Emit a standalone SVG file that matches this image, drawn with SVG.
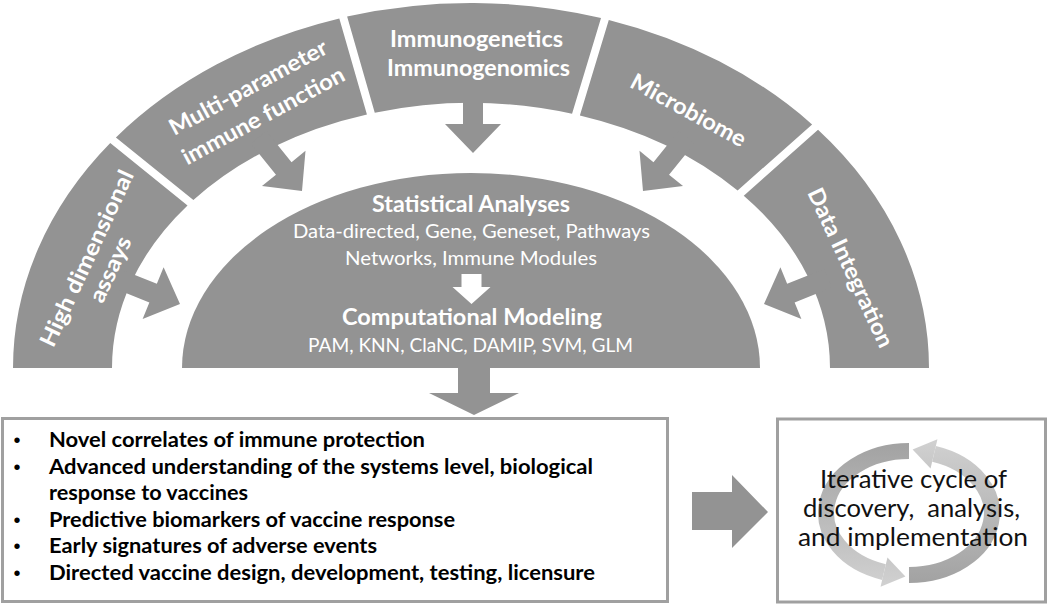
<svg xmlns="http://www.w3.org/2000/svg" width="1050" height="605" viewBox="0 0 1050 605">
<defs>
<style>
.seg{fill:#939393}
.arr{fill:#939393}
.wt{fill:#ffffff;font-family:Lato,"Liberation Sans",sans-serif;text-anchor:middle}
.lb{font-weight:700;font-size:22.5px}
.h1{font-weight:700;font-size:23px}
.h2{font-size:18.5px}
.box{fill:#ffffff;stroke:#a0a0a0;stroke-width:3}
.bt{fill:#000000;font-family:Lato,"Liberation Sans",sans-serif;font-weight:700;font-size:21px}
.bul{fill:#000000;font-family:"Liberation Sans",sans-serif;font-size:20px;text-anchor:middle}
.rt{fill:#111111;font-family:Lato,"Liberation Sans",sans-serif;font-size:25.5px;text-anchor:middle}
</style>
<linearGradient id="cyc" gradientUnits="userSpaceOnUse" x1="0" y1="443" x2="0" y2="590">
<stop offset="0" stop-color="#a2a2a2"/>
<stop offset="1" stop-color="#d2d2d2"/>
</linearGradient>
<polygon id="ringArrow" points="0,0 -29,-28 -29,-10 -69,-10 -69,10 -29,10 -29,28"/>
</defs>
<rect width="1050" height="605" fill="#ffffff"/>

<g id="seg-high-dimensional">
<path class="seg" d="M13,368 A458,365 0 0 1 110.25,143.12 L187.52,205.40 A359,265 0 0 0 112,368 Z"/>
</g>
<g id="seg-multi-parameter">
<path class="seg" d="M115.91,137.47 A458,365 0 0 1 339.32,18.41 L366.94,114.38 A359,265 0 0 0 193.39,199.97 Z"/>
</g>
<g id="seg-immunogenetics">
<path class="seg" d="M347.12,16.60 A458,365 0 0 1 601.02,18.0 L572.06,113.70 A359,265 0 0 0 374.76,112.69 Z"/>
</g>
<g id="seg-microbiome">
<path class="seg" d="M608.79,19.90 A458,365 0 0 1 812.10,124.42 L737.61,190.54 A359,265 0 0 0 579.86,115.47 Z"/>
</g>
<g id="seg-data-integration">
<path class="seg" d="M818.03,129.80 A458,365 0 0 1 929,368 L830,368 A359,265 0 0 0 743.75,195.68 Z"/>
</g>

<g id="dome">
<path class="seg" d="M182,368 A289,195 0 0 1 760,368 Z"/>
</g>

<g id="connectors">
<use href="#ringArrow" class="arr" transform="translate(180,304) rotate(22)"/>
<use href="#ringArrow" class="arr" transform="translate(302,191) rotate(51)"/>
<use href="#ringArrow" class="arr" transform="translate(473,153) rotate(90)"/>
<use href="#ringArrow" class="arr" transform="translate(643,191) rotate(129)"/>
<use href="#ringArrow" class="arr" transform="translate(764,304) rotate(158)"/>
<polygon fill="#ffffff" points="461.5,274 481.5,274 481.5,287 490.5,287 471.5,304 452.5,287 461.5,287"/>
<polygon class="arr" points="458,360 490,360 490,393 519,393 474,415 429,393 458,393"/>
<polygon class="arr" points="692,492 732,492 732,475 768,512 732,548 732,530 692,530"/>
</g>

<g id="label-high-dimensional" transform="translate(101,265) rotate(-65)">
<text class="wt lb" x="0" y="-8" textLength="192" lengthAdjust="spacingAndGlyphs">High dimensional</text>
<text class="wt lb" x="0" y="18" textLength="70" lengthAdjust="spacingAndGlyphs">assays</text>
</g>
<g id="label-multi-parameter" transform="translate(257,104) rotate(-28.3)">
<text class="wt lb" x="0" y="-11" textLength="176" lengthAdjust="spacingAndGlyphs">Multi-parameter</text>
<text class="wt lb" x="0" y="21" textLength="181" lengthAdjust="spacingAndGlyphs">immune function</text>
</g>
<g id="label-immunogenetics">
<text class="wt lb" x="476.5" y="47" textLength="173" lengthAdjust="spacingAndGlyphs">Immunogenetics</text>
<text class="wt lb" x="478.5" y="76" textLength="183" lengthAdjust="spacingAndGlyphs">Immunogenomics</text>
</g>
<g id="label-microbiome" transform="translate(688,111) rotate(28.5)">
<text class="wt lb" x="0" y="7" textLength="128" lengthAdjust="spacingAndGlyphs">Microbiome</text>
</g>
<g id="label-data-integration" transform="translate(850,268) rotate(65)">
<text class="wt lb" x="0" y="7" textLength="173" lengthAdjust="spacingAndGlyphs">Data Integration</text>
</g>

<g id="label-dome">
<text class="wt h1" x="471" y="212" textLength="198" lengthAdjust="spacingAndGlyphs">Statistical Analyses</text>
<text class="wt h2" x="471.5" y="238" textLength="357" lengthAdjust="spacingAndGlyphs">Data-directed, Gene, Geneset, Pathways</text>
<text class="wt h2" x="471" y="265" textLength="252" lengthAdjust="spacingAndGlyphs">Networks, Immune Modules</text>
<text class="wt h1" x="472" y="325" textLength="260" lengthAdjust="spacingAndGlyphs">Computational Modeling</text>
<text class="wt h2" x="470.5" y="352" textLength="325" lengthAdjust="spacingAndGlyphs">PAM, KNN, ClaNC, DAMIP, SVM, GLM</text>
</g>

<g id="outcomes-box">
<rect class="box" x="2.5" y="418.5" width="665" height="183"/>
<text class="bul" x="17" y="447">•</text>
<text class="bul" x="17" y="473.5">•</text>
<text class="bul" x="17" y="526.5">•</text>
<text class="bul" x="17" y="553">•</text>
<text class="bul" x="17" y="579.5">•</text>
<text class="bt" x="49" y="447" textLength="376" lengthAdjust="spacingAndGlyphs">Novel correlates of immune protection</text>
<text class="bt" x="49" y="473.5" textLength="544" lengthAdjust="spacingAndGlyphs">Advanced understanding of the systems level, biological</text>
<text class="bt" x="49" y="500" textLength="199" lengthAdjust="spacingAndGlyphs">response to vaccines</text>
<text class="bt" x="49" y="526.5" textLength="406" lengthAdjust="spacingAndGlyphs">Predictive biomarkers of vaccine response</text>
<text class="bt" x="49" y="553" textLength="328" lengthAdjust="spacingAndGlyphs">Early signatures of adverse events</text>
<text class="bt" x="49" y="579.5" textLength="546" lengthAdjust="spacingAndGlyphs">Directed vaccine design, development, testing, licensure</text>
</g>

<g id="cycle-box">
<rect class="box" x="777.5" y="419" width="268" height="183"/>
<g id="cycle-arrow-a">
<path d="M909,451 A83,62 0 0 0 884,572.1" fill="none" stroke="url(#cyc)" stroke-width="16"/>
<polygon points="880.55,586.7 887.45,557.5 905.4,576.5" fill="url(#cyc)"/>
</g>
<g id="cycle-arrow-b" transform="rotate(180 909 513)">
<path d="M909,451 A83,62 0 0 0 884,572.1" fill="none" stroke="url(#cyc)" stroke-width="16"/>
<polygon points="880.55,586.7 887.45,557.5 905.4,576.5" fill="url(#cyc)"/>
</g>
<text class="rt" x="913.5" y="487.5" textLength="187" lengthAdjust="spacingAndGlyphs">Iterative cycle of</text>
<text class="rt" x="911.5" y="517" textLength="217" lengthAdjust="spacingAndGlyphs" xml:space="preserve">discovery,  analysis,</text>
<text class="rt" x="913" y="546" textLength="230" lengthAdjust="spacingAndGlyphs">and implementation</text>
</g>
</svg>
